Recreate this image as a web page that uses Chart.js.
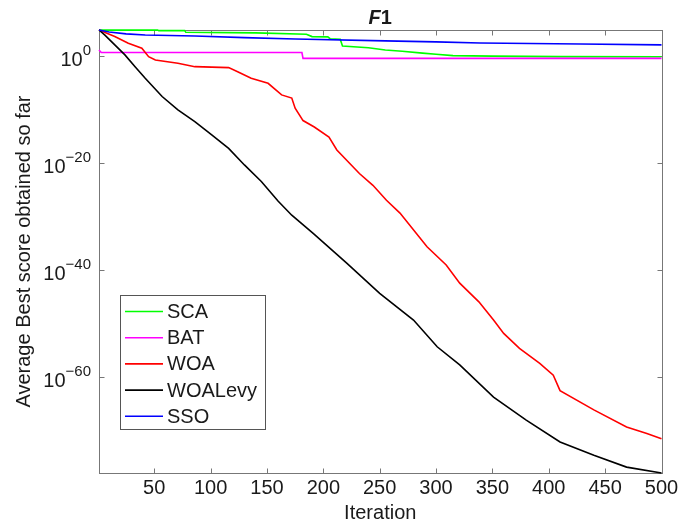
<!DOCTYPE html>
<html>
<head>
<meta charset="utf-8">
<script src="https://cdn.jsdelivr.net/npm/chart.js@4.4.1/dist/chart.umd.min.js"></script>
<style>
html,body{margin:0;padding:0;background:#fff;}
canvas{display:block;}
</style>
</head>
<body>
<canvas id="c" width="678" height="525"></canvas>
<script>
// ---- data ----
const chartTitle = 'F1';
const xAxisTitle = 'Iteration';
const yAxisTitle = 'Average Best score obtained so far';
const seriesNames = ['SCA', 'BAT', 'WOA', 'WOALevy', 'SSO'];

const scaIter = [1, 53, 54, 77, 78, 140, 185, 190, 204, 206, 215, 217, 240, 255, 270, 288, 300, 315, 350, 410, 500];
const scaVals = [6.5e4, 6.5e4, 5.2e4, 5.2e4, 2.5e4, 2.0e4, 1.1e4, 4.0e3, 3.5e3, 1.6e3, 1.26e3, 71, 32, 12.6, 7.1, 3.2, 2.0, 1.12, 0.89, 0.71, 0.66];

const batIter = [1, 3, 181, 182, 500];
const batVals = [12.6, 4.2, 4.2, 0.33, 0.33];

const woaIter = [1, 15, 27, 39, 45, 51, 71, 86, 116, 124, 136, 151, 163, 172, 175, 182, 192, 205, 212, 232, 244, 256, 268, 292, 309, 321, 338, 351, 360, 374, 392, 404, 410, 440, 469, 487, 500];
const woaVals = [6.8e4, 4.0e3, 229, 26.3, 0.71, 0.17, 0.042, 9.5e-3, 6.3e-3, 1.1e-3, 6.3e-5, 7.4e-6, 5.0e-8, 1.26e-8, 1.6e-10, 7.9e-13, 5.0e-14, 6.3e-16, 2.5e-18, 1.0e-22, 6.3e-25, 1.0e-27, 4.0e-30, 2.0e-36, 7.9e-40, 3.2e-43, 1.0e-46, 4.0e-50, 1.26e-52, 2.0e-55, 3.2e-58, 2.0e-60, 2.5e-63, 6.3e-67, 4.0e-70, 2.5e-71, 2.5e-72];

const levyIter = [1, 6, 15, 24, 33, 42, 57, 71, 86, 101, 116, 130, 145, 160, 172, 191, 221, 250, 280, 301, 321, 351, 380, 410, 440, 469, 500];
const levyVals = [6.8e4, 8.1e3, 110, 1.5, 9.5e-3, 6.3e-5, 2.5e-8, 7.9e-11, 5.0e-13, 1.6e-15, 5.0e-18, 4.0e-21, 3.2e-24, 6.3e-28, 1.6e-30, 6.3e-34, 1.6e-39, 4.0e-45, 4.0e-50, 4.0e-55, 1.6e-58, 1.6e-64, 7.9e-69, 6.3e-73, 2.0e-75, 1.26e-77, 1.0e-78];

const ssoIter = [1, 10, 25, 42, 86, 130, 175, 255, 300, 339, 428, 500];
const ssoVals = [6.8e4, 2.8e4, 1.3e4, 7.9e3, 5.2e3, 2.6e3, 1.45e3, 617, 417, 251, 166, 112];

const xTicks = [50, 100, 150, 200, 250, 300, 350, 400, 450, 500];
const yTickExps = [0, -20, -40, -60];
const xMin = 1, xMax = 500;
const yMin = 1e-78, yMax = 6.8e4;

// ---- styles ----
const colors = ['#00ff00', '#ff00ff', '#ff0000', '#000000', '#0000ff'];
const FONT = '"Liberation Sans", Arial, Helvetica, sans-serif';
const TEXT = '#1a1a1a';

const iters = [scaIter, batIter, woaIter, levyIter, ssoIter];
const vals = [scaVals, batVals, woaVals, levyVals, ssoVals];

const datasets = seriesNames.map((name, i) => ({
  label: name,
  data: iters[i].map((x, k) => ({x: x, y: vals[i][k]})),
  borderColor: colors[i],
  backgroundColor: colors[i],
  borderWidth: 1.6,
  pointRadius: 0,
  tension: 0,
  fill: false,
  clip: 3,
  order: 4 - i
}));

const matlabFrame = {
  id: 'matlabFrame',
  beforeDatasetsDraw(chart) {
    const ctx = chart.ctx, a = chart.chartArea;
    const xs = chart.scales.x, ys = chart.scales.y;
    ctx.save();
    ctx.strokeStyle = '#777777';
    ctx.lineWidth = 1;
    const L = Math.round(a.left) + 0.5, T = Math.round(a.top) + 0.5;
    const R = Math.round(a.right) + 0.5, B = Math.round(a.bottom) + 0.5;
    ctx.strokeRect(L, T, R - L, B - T);
    ctx.beginPath();
    xTicks.forEach(v => {
      const px = Math.round(xs.getPixelForValue(v)) + 0.5;
      ctx.moveTo(px, B); ctx.lineTo(px, B - 5);
      ctx.moveTo(px, T); ctx.lineTo(px, T + 5);
    });
    yTickExps.forEach(e => {
      const py = Math.round(ys.getPixelForValue(Math.pow(10, e))) + 0.5;
      ctx.moveTo(L, py); ctx.lineTo(L + 5, py);
      ctx.moveTo(R, py); ctx.lineTo(R - 5, py);
    });
    ctx.stroke();
    ctx.restore();
  },
  afterDraw(chart) {
    const ctx = chart.ctx, a = chart.chartArea;
    const xs = chart.scales.x, ys = chart.scales.y;
    ctx.save();
    ctx.fillStyle = TEXT;
    // x tick labels
    ctx.font = '20px ' + FONT;
    ctx.textAlign = 'center';
    ctx.textBaseline = 'middle';
    xTicks.forEach(v => {
      ctx.fillText(String(v), xs.getPixelForValue(v), a.bottom + 15);
    });
    // y tick labels 10^e
    yTickExps.forEach(e => {
      const py = ys.getPixelForValue(Math.pow(10, e));
      const expText = e === 0 ? '0' : '\u2212' + Math.abs(e);
      const rightX = a.left - 8;
      ctx.textAlign = 'right';
      ctx.font = '15px ' + FONT;
      const w = ctx.measureText(expText).width;
      ctx.fillText(expText, rightX, py - 5);
      ctx.font = '20px ' + FONT;
      ctx.fillText('10', rightX - w, py + 5);
    });
    // title
    const cx = (a.left + a.right) / 2;
    ctx.textAlign = 'left';
    ctx.font = 'italic bold 20px ' + FONT;
    const wF = ctx.measureText('F').width;
    ctx.font = 'bold 20px ' + FONT;
    const w1 = ctx.measureText('1').width;
    const sx = cx - (wF + w1) / 2;
    ctx.font = 'italic bold 20px ' + FONT;
    ctx.fillText('F', sx, 18);
    ctx.font = 'bold 20px ' + FONT;
    ctx.fillText('1', sx + wF, 18);
    // axis titles
    ctx.font = '20px ' + FONT;
    ctx.textAlign = 'center';
    ctx.fillText(xAxisTitle, cx, a.bottom + 40);
    ctx.save();
    ctx.translate(24, (a.top + a.bottom) / 2);
    ctx.rotate(-Math.PI / 2);
    ctx.fillText(yAxisTitle, 0, 0);
    ctx.restore();

    // legend
    const lx = 120.5, ly = 295.5, lw = 145, lh = 134;
    ctx.fillStyle = '#ffffff';
    ctx.fillRect(lx, ly, lw, lh);
    ctx.strokeStyle = '#555555';
    ctx.lineWidth = 1;
    ctx.strokeRect(lx, ly, lw, lh);
    ctx.font = '20px ' + FONT;
    ctx.textAlign = 'left';
    ctx.textBaseline = 'middle';
    seriesNames.forEach((name, i) => {
      const yy = 311.5 + i * 26.2;
      ctx.strokeStyle = colors[i];
      ctx.lineWidth = 1.6;
      ctx.beginPath();
      ctx.moveTo(125, yy); ctx.lineTo(163, yy);
      ctx.stroke();
      ctx.fillStyle = TEXT;
      ctx.fillText(name, 167, yy + 1);
    });
    ctx.restore();
  }
};

new Chart(document.getElementById('c'), {
  type: 'line',
  data: { datasets: datasets },
  options: {
    responsive: false,
    animation: false,
    devicePixelRatio: 1,
    layout: { padding: { top: 30, right: 16.5, left: 0, bottom: 0 } },
    plugins: { legend: { display: false }, title: { display: false }, tooltip: { enabled: false } },
    scales: {
      x: {
        type: 'linear', min: xMin, max: xMax,
        grid: { display: false }, border: { display: false },
        ticks: { display: false },
        afterFit: s => { s.height = 52; }
      },
      y: {
        type: 'logarithmic', min: yMin, max: yMax, bounds: 'data',
        grid: { display: false }, border: { display: false },
        ticks: { display: false },
        afterBuildTicks: s => { s.ticks = yTickExps.map(e => ({ value: Math.pow(10, e) })); },
        afterFit: s => { s.width = 99; }
      }
    }
  },
  plugins: [matlabFrame]
});
</script>
</body>
</html>
